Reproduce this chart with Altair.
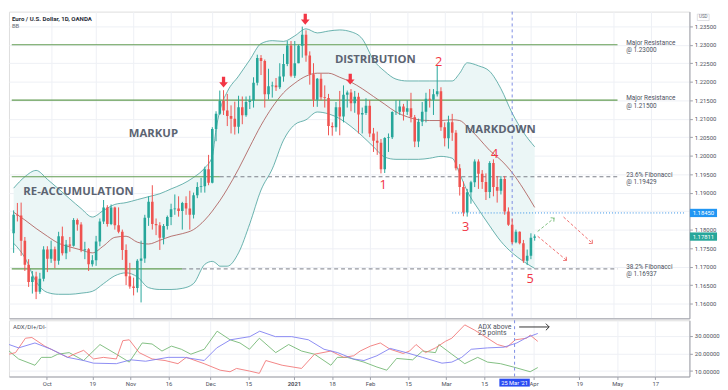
import math
import altair as alt
import numpy as np
import pandas as pd

# ---------------- candles: bar 0 = 1 Oct 2020, bar -10 = 17 Sep 2020, bar 129 = 2 Apr 2021 ----------------
bars = list(range(-10, 130))
opens = [1.1790, 1.1840, 1.1838, 1.1770, 1.1705, 1.1658, 1.1673, 1.1632, 1.1667, 1.1746,
         1.1721, 1.1747, 1.1716, 1.1782, 1.1736, 1.1760, 1.1756, 1.1826, 1.1814, 1.1744,
         1.1747, 1.1706, 1.1717, 1.1768, 1.1822, 1.1860, 1.1815, 1.1860, 1.1812, 1.1794,
         1.1745, 1.1674, 1.1646, 1.1642, 1.1716, 1.1722, 1.1832, 1.1875, 1.1815, 1.1812,
         1.1778, 1.1810, 1.1834, 1.1855, 1.1857, 1.1850, 1.1872, 1.1857, 1.1840, 1.1893,
         1.1915, 1.1917, 1.1963, 1.1927, 1.2072, 1.2113, 1.2148, 1.2122, 1.2107, 1.2100,
         1.2078, 1.2131, 1.2109, 1.2145, 1.2149, 1.2197, 1.2264, 1.2256, 1.2166, 1.2188,
         1.2190, 1.2185, 1.2214, 1.2248, 1.2298, 1.2216, 1.2250, 1.2297, 1.2327, 1.2271,
         1.2220, 1.2151, 1.2208, 1.2158, 1.2156, 1.2080, 1.2077, 1.2131, 1.2106, 1.2165,
         1.2171, 1.2142, 1.2159, 1.2111, 1.2115, 1.2135, 1.2060, 1.2040, 1.2035, 1.1963,
         1.2048, 1.2050, 1.2118, 1.2119, 1.2133, 1.2119, 1.2128, 1.2104, 1.2038, 1.2092,
         1.2119, 1.2154, 1.2151, 1.2166, 1.2174, 1.2077, 1.2047, 1.2090, 1.2062, 1.1966,
         1.1915, 1.1846, 1.1901, 1.1928, 1.1984, 1.1951, 1.1929, 1.1902, 1.1980, 1.1915,
         1.1905, 1.1937, 1.1849, 1.1813, 1.1766, 1.1794, 1.1763, 1.1716, 1.1729, 1.1778]
highs = [1.1852, 1.1872, 1.1873, 1.1780, 1.1720, 1.1688, 1.1686, 1.1683, 1.1755, 1.1755,
         1.1770, 1.1754, 1.1794, 1.1808, 1.1772, 1.1780, 1.1831, 1.1830, 1.1820, 1.1767,
         1.1750, 1.1731, 1.1783, 1.1830, 1.1880, 1.1866, 1.1868, 1.1862, 1.1860, 1.1800,
         1.1760, 1.1710, 1.1670, 1.1720, 1.1770, 1.1840, 1.1890, 1.1920, 1.1830, 1.1820,
         1.1815, 1.1838, 1.1870, 1.1895, 1.1890, 1.1875, 1.1890, 1.1905, 1.1900, 1.1928,
         1.1940, 1.1970, 1.2002, 1.2077, 1.2120, 1.2176, 1.2177, 1.2167, 1.2136, 1.2146,
         1.2162, 1.2160, 1.2160, 1.2162, 1.2212, 1.2273, 1.2272, 1.2260, 1.2235, 1.2200,
         1.2210, 1.2250, 1.2275, 1.2310, 1.2310, 1.2310, 1.2300, 1.2349, 1.2339, 1.2282,
         1.2250, 1.2210, 1.2222, 1.2190, 1.2167, 1.2090, 1.2145, 1.2175, 1.2190, 1.2176,
         1.2180, 1.2175, 1.2170, 1.2130, 1.2155, 1.2150, 1.2075, 1.2065, 1.2045, 1.2050,
         1.2060, 1.2120, 1.2150, 1.2150, 1.2140, 1.2150, 1.2170, 1.2110, 1.2100, 1.2145,
         1.2170, 1.2180, 1.2180, 1.2243, 1.2185, 1.2090, 1.2108, 1.2113, 1.2069, 1.1977,
         1.1930, 1.1910, 1.1932, 1.1990, 1.1990, 1.1961, 1.1952, 1.1985, 1.1990, 1.1945,
         1.1945, 1.1945, 1.1860, 1.1830, 1.1800, 1.1795, 1.1772, 1.1746, 1.1790, 1.1787]
lows = [1.1737, 1.1822, 1.1729, 1.1688, 1.1645, 1.1627, 1.1612, 1.1626, 1.1660, 1.1685,
        1.1710, 1.1696, 1.1705, 1.1730, 1.1720, 1.1740, 1.1754, 1.1797, 1.1739, 1.1720,
        1.1688, 1.1700, 1.1702, 1.1755, 1.1815, 1.1808, 1.1812, 1.1800, 1.1790, 1.1718,
        1.1650, 1.1640, 1.1622, 1.1630, 1.1603, 1.1710, 1.1810, 1.1800, 1.1785, 1.1745,
        1.1760, 1.1800, 1.1812, 1.1840, 1.1835, 1.1800, 1.1840, 1.1800, 1.1830, 1.1885,
        1.1900, 1.1900, 1.1920, 1.1925, 1.2039, 1.2110, 1.2110, 1.2080, 1.2060, 1.2057,
        1.2060, 1.2085, 1.2105, 1.2126, 1.2130, 1.2190, 1.2218, 1.2130, 1.2152, 1.2157,
        1.2175, 1.2180, 1.2200, 1.2242, 1.2212, 1.2210, 1.2250, 1.2265, 1.2254, 1.2192,
        1.2132, 1.2132, 1.2150, 1.2130, 1.2055, 1.2054, 1.2065, 1.2055, 1.2090, 1.2130,
        1.2120, 1.2116, 1.2060, 1.2060, 1.2110, 1.2050, 1.2010, 1.2002, 1.1952, 1.1953,
        1.2010, 1.2045, 1.2110, 1.2110, 1.2095, 1.2110, 1.2090, 1.2023, 1.2023, 1.2080,
        1.2090, 1.2130, 1.2110, 1.2160, 1.2067, 1.2025, 1.2019, 1.2040, 1.1960, 1.1892,
        1.1836, 1.1835, 1.1870, 1.1915, 1.1910, 1.1910, 1.1880, 1.1885, 1.1890, 1.1873,
        1.1895, 1.1840, 1.1810, 1.1761, 1.1763, 1.1760, 1.1710, 1.1704, 1.1720, 1.1770]
closes = [1.1840, 1.1838, 1.1770, 1.1705, 1.1658, 1.1673, 1.1632, 1.1667, 1.1746, 1.1721,
          1.1747, 1.1716, 1.1782, 1.1736, 1.1760, 1.1756, 1.1826, 1.1814, 1.1744, 1.1747,
          1.1706, 1.1717, 1.1768, 1.1822, 1.1860, 1.1815, 1.1860, 1.1812, 1.1794, 1.1745,
          1.1674, 1.1646, 1.1642, 1.1716, 1.1722, 1.1832, 1.1875, 1.1815, 1.1812, 1.1778,
          1.1810, 1.1834, 1.1855, 1.1857, 1.1850, 1.1872, 1.1857, 1.1840, 1.1893, 1.1915,
          1.1917, 1.1963, 1.1927, 1.2072, 1.2113, 1.2148, 1.2122, 1.2107, 1.2100, 1.2078,
          1.2131, 1.2109, 1.2145, 1.2149, 1.2197, 1.2264, 1.2256, 1.2166, 1.2188, 1.2190,
          1.2185, 1.2214, 1.2248, 1.2298, 1.2216, 1.2250, 1.2297, 1.2327, 1.2271, 1.2220,
          1.2151, 1.2208, 1.2158, 1.2156, 1.2080, 1.2077, 1.2131, 1.2106, 1.2165, 1.2171,
          1.2142, 1.2159, 1.2111, 1.2115, 1.2135, 1.2060, 1.2040, 1.2035, 1.1963, 1.2048,
          1.2050, 1.2118, 1.2119, 1.2133, 1.2119, 1.2128, 1.2104, 1.2038, 1.2092, 1.2119,
          1.2154, 1.2151, 1.2166, 1.2174, 1.2077, 1.2047, 1.2090, 1.2062, 1.1966, 1.1915,
          1.1846, 1.1901, 1.1928, 1.1984, 1.1951, 1.1929, 1.1902, 1.1980, 1.1915, 1.1905,
          1.1937, 1.1849, 1.1813, 1.1766, 1.1794, 1.1763, 1.1716, 1.1729, 1.1778, 1.1781]

# ---------------- Bollinger Bands ----------------
band_bar = [-10, -7, -4, -1, 2, 5, 8, 11, 14, 17, 20, 23, 26, 29, 32, 35, 38, 41, 43, 44,
            45, 47, 50, 53, 56, 59, 62, 65, 68, 71, 74, 77, 80, 83, 86, 89, 92, 95, 98, 101,
            104, 107, 109, 111, 114, 117, 120, 123, 126, 129]
bb_upper = [1.1912, 1.1943, 1.1960, 1.1936, 1.1910, 1.1883, 1.1857, 1.1834, 1.1852, 1.1868,
            1.1873, 1.1881, 1.1889, 1.1897, 1.1910, 1.1923, 1.1941, 1.1967, 1.1998, 1.2071,
            1.2121, 1.2173, 1.2215, 1.2259, 1.2303, 1.2311, 1.2309, 1.2324, 1.2343, 1.2332,
            1.2337, 1.2340, 1.2335, 1.2316, 1.2259, 1.2228, 1.2207, 1.2202, 1.2202, 1.2202,
            1.2202, 1.2202, 1.2223, 1.2251, 1.2243, 1.2228, 1.2181, 1.2115, 1.2063, 1.2024]
bb_basis = [1.1847, 1.1826, 1.1803, 1.1782, 1.1763, 1.1753, 1.1745, 1.1737, 1.1756, 1.1779,
            1.1782, 1.1766, 1.1761, 1.1771, 1.1782, 1.1789, 1.1800, 1.1826, 1.1850, 1.1864,
            1.1878, 1.1910, 1.1964, 1.2024, 1.2082, 1.2131, 1.2170, 1.2196, 1.2215, 1.2223,
            1.2223, 1.2212, 1.2199, 1.2181, 1.2160, 1.2139, 1.2118, 1.2105, 1.2097, 1.2095,
            1.2095, 1.2097, 1.2095, 1.2079, 1.2048, 1.2014, 1.1988, 1.1954, 1.1910, 1.1860]
bb_lower = [1.1763, 1.1724, 1.1659, 1.1630, 1.1625, 1.1625, 1.1628, 1.1633, 1.1654, 1.1675,
            1.1683, 1.1672, 1.1643, 1.1638, 1.1638, 1.1641, 1.1654, 1.1706, 1.1714, 1.1709,
            1.1701, 1.1701, 1.1737, 1.1816, 1.1907, 1.1964, 1.2042, 1.2084, 1.2097, 1.2118,
            1.2113, 1.2100, 1.2079, 1.2053, 1.2024, 1.1996, 1.1990, 1.1990, 1.1990, 1.1993,
            1.1998, 1.1993, 1.1951, 1.1904, 1.1855, 1.1810, 1.1768, 1.1737, 1.1714, 1.1695]

# ---------------- ADX / DI+ / DI- ----------------
adx_bar = [-9.9, -7.4, -3.1, 1.2, 5.5, 9.7, 12.3, 18.3, 22.1, 26, 31.9, 36.2, 41.4, 44.7, 48.3,
           53.4, 56, 60.1, 64.4, 68.8, 72.9, 76.5, 80.6, 83.4, 86.8, 90.3, 94.5, 98.8, 103.9,
           106.5, 109.1, 111.6, 115.9, 120.2, 123.6, 126.2, 129.1]
adx_val = [25.1, 23.2, 26.0, 22.4, 17.8, 16.0, 14.5, 14.2, 16.4, 15.6, 17.8, 17.8, 16.0, 23.2, 27.8,
           29.6, 32.7, 29.6, 29.6, 27.8, 22.4, 20.5, 16.9, 16.0, 18.7, 22.9, 20.5, 17.8, 14.5,
           15.1, 17.8, 22.4, 23.2, 23.6, 26.0, 29.1, 31.4]
dim_bar = [-9.9, -8.2, -5.6, -3.9, -0.5, 2.1, 5.5, 7.2, 9.7, 12.3, 14.9, 18.3, 20, 21.7, 24.3,
           27.7, 31.1, 34.5, 36.7, 41.4, 45.6, 48.2, 49.9, 53.3, 55.9, 57.6, 61.9, 67, 70.4, 74.7,
           78.1, 80.7, 82.4, 85.1, 87.7, 90.3, 93.7, 95.4, 97.1, 99.6, 102.2, 104.8, 106.5, 109.9,
           112.5, 115.9, 118.5, 121, 123.2, 126.2, 127.1, 129.1]
dim_val = [19.6, 20.5, 28.7, 29.1, 24.2, 21.4, 17.8, 19.6, 21.8, 16.9, 17.8, 16.9, 27.3, 27.8, 20.5,
           16.9, 16.0, 14.2, 17.8, 14.2, 10.5, 9.6, 11.5, 10.0, 8.7, 16.0, 13.3, 11.5, 19.6, 21.4,
           17.8, 18.7, 21.4, 24.2, 26.0, 22.4, 20.0, 21.4, 25.1, 20.5, 23.2, 26.9, 28.7, 36.3,
           33.3, 28.7, 25.1, 23.6, 27.8, 28.7, 30.5, 26.9]
dip_bar = [-9.9, -7.4, -3.1, -1.4, 1.2, 2.9, 5.9, 9.7, 14, 18.3, 21.7, 25.1, 27.7, 30.3, 32.8,
           35.4, 37.9, 41.4, 44.8, 48.2, 50.8, 53.3, 55.9, 60.2, 63.6, 67, 70.4, 74.7, 76.4, 79,
           83.4, 86.8, 89.4, 92, 96.2, 98.8, 102.2, 103.1, 106.5, 109.9, 113.3, 115.9, 119.3,
           122.7, 127.1, 129.1]
dip_val = [21.4, 16.9, 13.3, 17.8, 17.8, 19.6, 20.5, 16.0, 25.1, 19.6, 15.1, 26.0, 25.4, 21.4, 24.2,
           22.4, 19.6, 22.4, 32.7, 27.8, 26.0, 22.4, 28.7, 20.5, 25.1, 21.4, 19.6, 13.3, 17.8, 17.8,
           15.1, 12.3, 10.5, 17.2, 16.4, 21.4, 20.5, 25.1, 19.6, 14.2, 17.8, 15.1, 14.2,
           12.3, 9.6, 12.0]

# ---------------- axes ----------------
tick_bars = [0, 12, 22, 32, 43, 53, 65, 75, 85, 95, 105, 115, 128, 140, 150, 160]
tick_text = ["Oct", "19", "Nov", "16", "Dec", "15", "2021", "18", "Feb", "15", "Mar", "15",
             "Apr", "19", "May", "17"]
price_ticks = [1.160, 1.165, 1.170, 1.175, 1.180, 1.185, 1.190, 1.195, 1.200, 1.205,
               1.210, 1.215, 1.220, 1.225, 1.230, 1.235]
hidden_price_tick = 1.185   # covered by the 1.18450 price label in the reference
adx_ticks = [10, 20, 30]

# ---------------- drawings ----------------
levels = [1.23000, 1.21500, 1.19429, 1.16937]
level_line1 = ["Major Resistance", "Major Resistance", "23.6% Fibonacci", "38.2% Fibonacci"]
level_line2 = ["@ 1.23000", "@ 1.21500", "@ 1.19429", "@ 1.16937"]
level_green_end = [151.1, 151.1, 45, 35]
level_end = 151.1
level_label_bar = 153.4
blue_level, blue_start, blue_text = 1.18450, 107, "1.18450"
last_close, last_text = 1.17811, "1.17811"
marker_bar, marker_text = 123, "25 Mar '21"

phase_text = ["RE-ACCUMULATION", "MARKUP", "DISTRIBUTION", "MARKDOWN"]
phase_bar = [7.3, 27.3, 86.5, 119.8]
phase_price = [1.1902, 1.2058, 1.2259, 1.2069]
wave_text = ["1", "2", "3", "4", "5"]
wave_bar = [88.6, 103.4, 110.6, 118.3, 127.8]
wave_price = [1.1920, 1.2254, 1.1808, 1.2003, 1.1667]
arrow_bar = [46.0, 67.8, 79.8]
arrow_price = [1.2199, 1.2369, 1.2207]
fc_x0 = [129.8, 129.8, 136.7]
fc_y0 = [1.1795, 1.1782, 1.1834]
fc_x1 = [134.2, 137.5, 144.4]
fc_y1 = [1.1831, 1.1717, 1.1763]
fc_up = [True, False, False]
adx_note = "ADX above\n25 points"
adx_note_bar, adx_note_val = 113.4, 37.4
adx_arrow = (124.2, 132.1, 35.1)

# ---------------- layout constants ----------------
W, H1, H2 = 690, 311, 57
XMIN, XMAX = -9.923, 168.97
YMIN, YMAX = 1.15600, 1.23895
AMIN, AMAX = 6.9, 38.9
UP, DOWN = "#26a69a", "#ef5350"
GRID, AXC, LBL = "#eef0f5", "#9ea1aa", "#50535e"
FONT = "Roboto"
BANDC, BASISC, FILLC = "#45a09a", "#a8524f", "#ebf6f6"
GREENL, DASHC, RED = "#629c52", "#7b7e88", "#f23645"

bpx = W / (XMAX - XMIN)
ppx = H1 / (YMAX - YMIN)

xs = alt.Scale(domain=[XMIN, XMAX], nice=False, zero=False)
ys = alt.Scale(domain=[YMIN, YMAX], nice=False, zero=False)
as_ = alt.Scale(domain=[AMIN, AMAX], nice=False, zero=False)

main_xaxis = alt.Axis(values=tick_bars, labels=False, ticks=False, domain=True, domainColor=AXC,
                      grid=True, gridColor=GRID, title=None)
main_yaxis = alt.Axis(orient="right", values=price_ticks,
                      labelExpr=f"abs(datum.value - {hidden_price_tick}) < 0.0001 ? '' : format(datum.value, '.5f')",
                      labelFontSize=6, labelColor=LBL, labelFont=FONT, tickSize=3, tickColor=AXC,
                      domainColor=AXC, grid=True, gridColor=GRID, labelPadding=2, title=None)

expr = "''"
for v, t in zip(reversed(tick_bars), reversed(tick_text)):
    expr = f"datum.value == {v} ? '{t}' : {expr}"
adx_xaxis = alt.Axis(values=tick_bars, labelExpr=expr, labelFontSize=6, labelColor=LBL,
                     labelFont=FONT, tickSize=3, tickColor=AXC, domainColor=AXC, grid=True,
                     gridColor=GRID, labelPadding=1.5, title=None,
                     labelFontWeight={"condition": {"test": "datum.value == 65", "value": "bold"},
                                      "value": "normal"})
adx_yaxis = alt.Axis(orient="right", values=adx_ticks, format=".5f", labelFontSize=6,
                     labelColor=LBL, labelFont=FONT, tickSize=3, tickColor=AXC, domainColor=AXC,
                     grid=True, gridColor=GRID, labelPadding=2, title=None)


def MX(f):
    return alt.X(f, type="quantitative", scale=xs, axis=main_xaxis)


def MY(f):
    return alt.Y(f, type="quantitative", scale=ys, axis=main_yaxis)


def AX(f):
    return alt.X(f, type="quantitative", scale=xs, axis=adx_xaxis)


def AY(f):
    return alt.Y(f, type="quantitative", scale=as_, axis=adx_yaxis)


# ---------------- tables ----------------
cdf = pd.DataFrame({"bar": bars, "open": opens, "high": highs, "low": lows, "close": closes})
bdf = pd.DataFrame({"bar": band_bar, "upper": bb_upper, "basis": bb_basis, "lower": bb_lower})

green_df = pd.DataFrame({"x0": [-10.5] * 4, "x1": level_green_end, "y": levels})
dash_df = pd.DataFrame({"x0": level_green_end[2:], "x1": [level_end] * 2, "y": levels[2:]})
blue_df = pd.DataFrame({"x0": [blue_start], "x1": [XMAX], "y": [blue_level]})
lab_df = pd.DataFrame({"bar": [level_label_bar] * 4, "y": levels,
                       "t": [a + "\n" + b for a, b in zip(level_line1, level_line2)]})
phase_df = pd.DataFrame({"bar": phase_bar, "y": phase_price, "t": phase_text})
wave_df = pd.DataFrame({"bar": wave_bar, "y": wave_price, "t": wave_text})
arrow_df = pd.DataFrame({"bar": arrow_bar, "y": arrow_price})


def ang(x0, y0, x1, y1):
    dx = (x1 - x0) * bpx
    dy = -(y1 - y0) * ppx
    return (math.degrees(math.atan2(dx, -dy)) + 360) % 360


fc_df = pd.DataFrame({"x0": fc_x0, "y0": fc_y0, "x1": fc_x1, "y1": fc_y1, "up": fc_up})
fc_df["ang"] = [ang(a, b, c, d) for a, b, c, d in zip(fc_x0, fc_y0, fc_x1, fc_y1)]

hb = 4.2 / ppx
box_df = pd.DataFrame({"y": [blue_level, last_close], "t": [blue_text, last_text],
                       "kind": ["blue", "green"]})
box_df["lo"] = box_df["y"] - hb
box_df["hi"] = box_df["y"] + hb

ARROW = "M -0.3 -1 L 0.3 -1 L 0.3 0.05 L 0.8 0.05 L 0 1 L -0.8 0.05 L -0.3 0.05 Z"
CHEV = "M -0.8 0.8 L 0 0 L 0.8 0.8"
CHEV_R = "M -0.8 -0.8 L 0 0 L -0.8 0.8"

# ---------------- main panel ----------------
band_fill = alt.Chart(bdf).mark_area(color=FILLC, interpolate="monotone", clip=True).encode(
    x=MX("bar"), y=MY("upper"), y2="lower")
band_up = alt.Chart(bdf).mark_line(color=BANDC, strokeWidth=0.8, interpolate="monotone",
                                   clip=True).encode(x=MX("bar"), y=MY("upper"))
band_lo = alt.Chart(bdf).mark_line(color=BANDC, strokeWidth=0.8, interpolate="monotone",
                                   clip=True).encode(x=MX("bar"), y=MY("lower"))
band_mid = alt.Chart(bdf).mark_line(color=BASISC, strokeWidth=0.8, interpolate="monotone",
                                    clip=True).encode(x=MX("bar"), y=MY("basis"))
seg_green = alt.Chart(green_df).mark_rule(color=GREENL, strokeWidth=1.2, clip=True).encode(
    x=MX("x0"), x2="x1", y=MY("y"))
seg_dash = alt.Chart(dash_df).mark_rule(color=DASHC, strokeWidth=1, strokeDash=[4, 3],
                                        clip=True).encode(x=MX("x0"), x2="x1", y=MY("y"))
seg_blue = alt.Chart(blue_df).mark_rule(color="#2f8fe6", strokeWidth=1, strokeDash=[1, 2],
                                        clip=True).encode(x=MX("x0"), x2="x1", y=MY("y"))
vline_df = pd.DataFrame({"bar": [marker_bar]})
vline = alt.Chart(vline_df).mark_rule(color="#6f7fe0", strokeWidth=0.9, strokeDash=[3, 3]).encode(
    x=MX("bar"))
candle_color = alt.condition("datum.close >= datum.open", alt.value(UP), alt.value(DOWN))
wick = alt.Chart(cdf).mark_rule(strokeWidth=1, clip=True).encode(
    x=MX("bar"), y=MY("low"), y2="high", color=candle_color)
body = alt.Chart(cdf).mark_bar(size=2.6, clip=True).encode(
    x=MX("bar"), y=MY("open"), y2="close", color=candle_color)
phase = alt.Chart(phase_df).mark_text(font="Open Sans", fontSize=11.5, fontWeight="bold",
                                      color="#5c6472").encode(x=MX("bar"), y=MY("y"), text="t:N")
waves = alt.Chart(wave_df).mark_text(font="Open Sans", fontSize=13, color=RED).encode(
    x=MX("bar"), y=MY("y"), text="t:N")
arrows = alt.Chart(arrow_df).mark_point(shape=ARROW, size=121, filled=True, color=RED,
                                        opacity=1, strokeWidth=0).encode(x=MX("bar"), y=MY("y"))
fc_up_lines = alt.Chart(fc_df[fc_df.up]).mark_rule(color="#7fbf80", strokeWidth=1,
                                                   strokeDash=[3, 2]).encode(
    x=MX("x0"), y=MY("y0"), x2="x1", y2="y1")
fc_dn_lines = alt.Chart(fc_df[~fc_df.up]).mark_rule(color="#ef7070", strokeWidth=1,
                                                    strokeDash=[3, 2]).encode(
    x=MX("x0"), y=MY("y0"), x2="x1", y2="y1")
fc_up_heads = alt.Chart(fc_df[fc_df.up]).mark_point(shape=CHEV, size=40, filled=False,
                                                    color="#7fbf80", strokeWidth=1,
                                                    opacity=1).encode(
    x=MX("x1"), y=MY("y1"), angle=alt.Angle("ang:Q", scale=None))
fc_dn_heads = alt.Chart(fc_df[~fc_df.up]).mark_point(shape=CHEV, size=40, filled=False,
                                                     color="#ef7070", strokeWidth=1,
                                                     opacity=1).encode(
    x=MX("x1"), y=MY("y1"), angle=alt.Angle("ang:Q", scale=None))
level_text = alt.Chart(lab_df).mark_text(align="left", baseline="top", dy=-5, fontSize=6.5,
                                         lineHeight=7.7, lineBreak="\n", color="#4c525e",
                                         font=FONT).encode(x=MX("bar"), y=MY("y"), text="t:N")
title_df = pd.DataFrame({"t": ["Euro / U.S. Dollar, 1D, OANDA"]})
title_t = alt.Chart(title_df).mark_text(align="left", fontSize=6.2, fontWeight="bold",
                                        color="#2a2e39", font=FONT).encode(
    x=alt.value(3), y=alt.value(7), text="t:N")
bb_df = pd.DataFrame({"t": ["BB"]})
bb_t = alt.Chart(bb_df).mark_text(align="left", fontSize=6, color="#6a6d78", font=FONT).encode(
    x=alt.value(3), y=alt.value(14.5), text="t:N")
box_blue = alt.Chart(box_df[box_df.kind == "blue"]).mark_rect(color="#2196f3").encode(
    x=alt.value(W + 0.5), x2=alt.value(W + 28), y=MY("lo"), y2="hi")
box_green = alt.Chart(box_df[box_df.kind == "green"]).mark_rect(color=UP).encode(
    x=alt.value(W + 0.5), x2=alt.value(W + 28), y=MY("lo"), y2="hi")
box_text = alt.Chart(box_df).mark_text(color="white", fontSize=6, font=FONT).encode(
    x=alt.value(W + 14.2), y=MY("y"), text="t:N")
usd_df = pd.DataFrame({"t": ["USD"]})
usd_rect = alt.Chart(usd_df).mark_rect(fill="white", stroke="#c9cbd1", strokeWidth=0.6).encode(
    x=alt.value(W + 8), x2=alt.value(W + 20), y=alt.value(2.5), y2=alt.value(9))
usd_text = alt.Chart(usd_df).mark_text(fontSize=4.6, color="#6a6d78", font=FONT).encode(
    x=alt.value(W + 14), y=alt.value(5.9), text="t:N")

main = alt.layer(band_fill, band_up, band_lo, band_mid, seg_green, seg_dash, seg_blue, vline,
                 wick, body, phase, waves, arrows, fc_up_lines, fc_dn_lines, fc_up_heads,
                 fc_dn_heads, level_text, title_t, bb_t, box_blue, box_green, box_text,
                 usd_rect, usd_text).properties(width=W, height=H1)

# ---------------- ADX panel ----------------
adx_df = pd.DataFrame({"bar": adx_bar, "v": adx_val})
dip_df = pd.DataFrame({"bar": dip_bar, "v": dip_val})
dim_df = pd.DataFrame({"bar": dim_bar, "v": dim_val})
l_adx = alt.Chart(adx_df).mark_line(color="#7f7ff2", strokeWidth=0.9, clip=True).encode(
    x=AX("bar"), y=AY("v"))
l_dip = alt.Chart(dip_df).mark_line(color="#74b874", strokeWidth=0.9, clip=True).encode(
    x=AX("bar"), y=AY("v"))
l_dim = alt.Chart(dim_df).mark_line(color="#f27878", strokeWidth=0.9, clip=True).encode(
    x=AX("bar"), y=AY("v"))
vline2 = alt.Chart(vline_df).mark_rule(color="#6f7fe0", strokeWidth=0.9,
                                       strokeDash=[3, 3]).encode(x=AX("bar"))
adx_lab_df = pd.DataFrame({"t": ["ADX/DI+/DI-"]})
adx_lab = alt.Chart(adx_lab_df).mark_text(align="left", fontSize=6.2, color="#50535e",
                                          font=FONT).encode(x=alt.value(4), y=alt.value(6.8),
                                                            text="t:N")
note_df = pd.DataFrame({"bar": [adx_note_bar], "v": [adx_note_val], "t": [adx_note]})
note = alt.Chart(note_df).mark_text(align="left", baseline="top", fontSize=7, lineHeight=6.6,
                                    lineBreak="\n", color="#50535e", font=FONT).encode(
    x=AX("bar"), y=AY("v"), text="t:N")
arr_df = pd.DataFrame({"x0": [adx_arrow[0]], "x1": [adx_arrow[1]], "v": [adx_arrow[2]]})
arr_line = alt.Chart(arr_df).mark_rule(color="#333333", strokeWidth=1).encode(
    x=AX("x0"), x2="x1", y=AY("v"))
arr_head = alt.Chart(arr_df).mark_point(shape=CHEV_R, size=70, filled=False, color="#333333",
                                        strokeWidth=1, opacity=1).encode(x=AX("x1"), y=AY("v"))
mk_df = pd.DataFrame({"x0": [marker_bar - 4], "x1": [marker_bar + 4], "bar": [marker_bar],
                      "t": [marker_text]})
mk_rect = alt.Chart(mk_df).mark_rect(color="#2a4cf2").encode(
    x=AX("x0"), x2="x1", y=alt.value(H2 + 2.2), y2=alt.value(H2 + 10.2))
mk_text = alt.Chart(mk_df).mark_text(color="white", fontSize=5.8, font=FONT).encode(
    x=AX("bar"), y=alt.value(H2 + 6.3), text="t:N")

adx = alt.layer(l_dip, l_dim, l_adx, vline2, adx_lab, note, arr_line, arr_head, mk_rect,
                mk_text).properties(width=W, height=H2)

chart = alt.vconcat(main, adx, spacing=0).properties(padding=0).configure_view(
    stroke=None).configure(background="white")

chart.save("out.html", embed_options={"renderer": "svg", "actions": False})
